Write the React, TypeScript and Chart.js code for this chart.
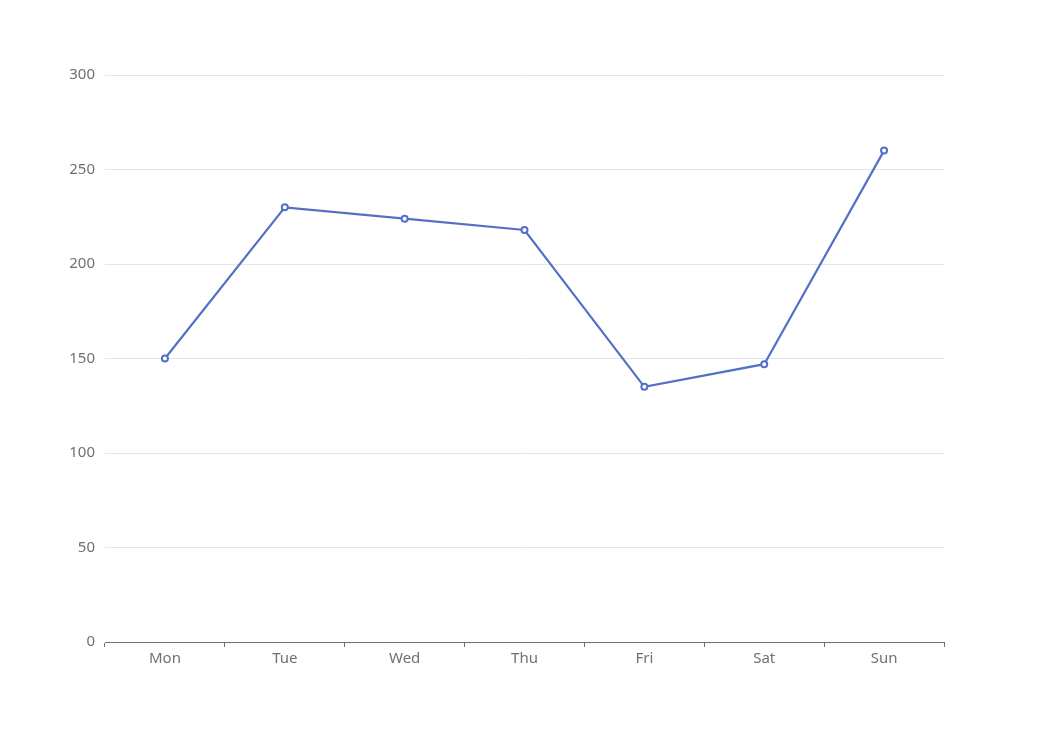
import React, { useEffect, useRef } from "react";
import { Chart, registerables } from "chart.js";

Chart.register(...registerables);

const categories = ["Mon", "Tue", "Wed", "Thu", "Fri", "Sat", "Sun"];
const values = [150, 230, 224, 218, 135, 147, 260];
const yTicks = [0, 50, 100, 150, 200, 250, 300];

const FONT = "'Noto Sans', sans-serif";
const TEXT = "#6E7079";

export default function App() {
  const ref = useRef<HTMLCanvasElement | null>(null);
  useEffect(() => {
    if (!ref.current) return;
    const chart = new Chart(ref.current, {
      type: "line",
      data: {
        labels: categories,
        datasets: [
          {
            data: values,
            borderColor: "#5470C6",
            borderWidth: 2.2,
            pointRadius: 3,
            pointBorderWidth: 2,
            pointBackgroundColor: "#ffffff",
            pointBorderColor: "#5470C6",
            tension: 0,
          },
        ],
      },
      options: {
        animation: false,
        responsive: false,
        layout: { padding: { top: 75, right: 104, left: 0, bottom: 0 } },
        plugins: { legend: { display: false }, tooltip: { enabled: false } },
        scales: {
          x: {
            offset: true,
            grid: {
              offset: true,
              drawOnChartArea: false,
              drawTicks: true,
              tickLength: 5,
              color: TEXT,
            },
            border: { display: true, color: TEXT, width: 1 },
            ticks: { color: TEXT, font: { family: FONT, size: 15 }, padding: 3 },
            afterFit: (s: any) => {
              s.height = 88;
            },
          },
          y: {
            min: 0,
            max: 300,
            afterBuildTicks: (s: any) => {
              s.ticks = yTicks.map((v) => ({ value: v }));
            },
            grid: { color: "#E0E6F1", drawTicks: false },
            border: { display: false },
            ticks: { color: TEXT, font: { family: FONT, size: 15 }, padding: 10 },
            afterFit: (s: any) => {
              s.width = 105;
            },
          },
        },
      },
    });
    return () => chart.destroy();
  }, []);
  return (
    <div style={{ position: "absolute", left: 0, top: 0, width: 1048, height: 730, background: "#fff" }}>
      <canvas ref={ref} width={1048} height={730} />
    </div>
  );
}
